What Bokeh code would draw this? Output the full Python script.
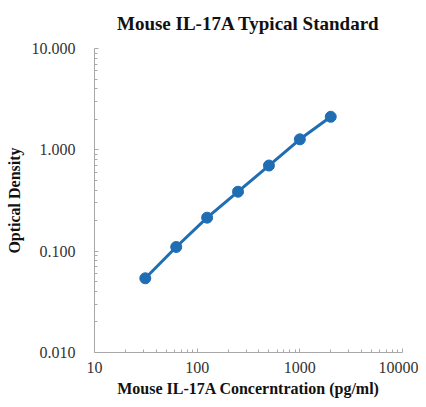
import numpy as np
from bokeh.plotting import figure
from bokeh.models import FixedTicker, NumeralTickFormatter, Range1d
from bokeh.embed import file_html
from bokeh.resources import INLINE

# Data
concentration = [31.25, 62.5, 125, 250, 500, 1000, 2000]
optical_density = [0.054, 0.110, 0.214, 0.386, 0.70, 1.27, 2.12]
x_ticks = [10, 100, 1000, 10000]
y_ticks = [0.01, 0.1, 1, 10]
title_text = "Mouse IL-17A Typical Standard"

SERIF = "Liberation Serif"
BLUE = "#1f6db3"

p = figure(width=418, height=399, x_axis_type="log", y_axis_type="log",
           output_backend="svg", toolbar_location=None,
           x_range=Range1d(10, 10000), y_range=Range1d(0.01, 10),
           min_border_left=94, min_border_right=16, min_border_top=48, min_border_bottom=45,
           title=title_text)
p.title.align = "center"
p.title.vertical_align = "top"
p.title.text_font = SERIF
p.title.text_font_size = "19px"
p.title.text_font_style = "bold"
p.title.text_color = "#111111"
p.title.offset = 0
p.title.standoff = 25

p.outline_line_color = None
p.xgrid.visible = False
p.ygrid.visible = False

def minors(major):
    out = []
    for m in major[:-1]:
        out += [m * k for k in range(2, 10)]
    return out

p.xaxis.ticker = FixedTicker(ticks=x_ticks, minor_ticks=minors(x_ticks))
p.yaxis.ticker = FixedTicker(ticks=y_ticks, minor_ticks=minors(y_ticks))
p.xaxis.formatter = NumeralTickFormatter(format="0")
p.yaxis.formatter = NumeralTickFormatter(format="0.000")

for ax in (p.xaxis[0], p.yaxis[0]):
    ax.axis_line_color = "#a8a8a8"
    ax.axis_line_width = 1
    ax.major_tick_line_color = "#a8a8a8"
    ax.minor_tick_line_color = "#a8a8a8"
    ax.major_tick_in = 4
    ax.major_tick_out = 0
    ax.minor_tick_in = 3
    ax.minor_tick_out = 0
    ax.major_label_text_font = SERIF
    ax.major_label_text_font_size = "16px"
    ax.major_label_text_color = "#333333"
    ax.axis_label_text_font = SERIF
    ax.axis_label_text_font_size = "16px"
    ax.axis_label_text_font_style = "bold"
    ax.axis_label_text_color = "#111111"

p.xaxis.axis_label = "Mouse IL-17A Concerntration (pg/ml)"
p.yaxis.axis_label = "Optical Density"
p.xaxis.major_label_standoff = 9
p.xaxis.axis_label_standoff = 4
p.yaxis.major_label_standoff = 19
p.yaxis.axis_label_standoff = 6

p.line(concentration, optical_density, line_color=BLUE, line_width=3)
p.scatter(concentration, optical_density, size=11, fill_color=BLUE, line_color=BLUE)

open("out.html", "w").write(file_html(p, INLINE))
